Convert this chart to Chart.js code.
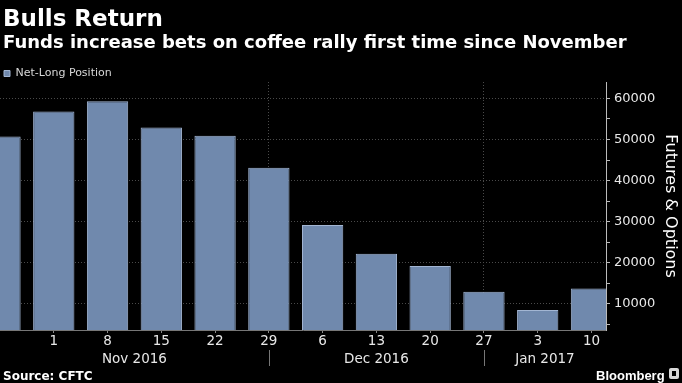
<!DOCTYPE html>
<html>
<head>
<meta charset="utf-8">
<script src="https://cdn.jsdelivr.net/npm/chart.js@4.4.1/dist/chart.umd.min.js"></script>
<style>
  html, body { margin:0; padding:0; background:#000; }
  #wrap { position:relative; width:682px; height:383px; background:#000; overflow:hidden; }
  canvas { position:absolute; left:0; top:0; }
  .t { position:absolute; color:#fff; white-space:nowrap; font-family:"DejaVu Sans", sans-serif; font-weight:bold; }
  #title { left:3px; top:6.5px; font-size:23px; line-height:23px; }
  #subtitle { left:3px; top:32.5px; font-size:18px; line-height:18px; }
  #source { left:3px; top:370px; font-size:12px; line-height:12px; }
  #brand { left:596px; top:369px; font-size:13px; line-height:13px; font-family:"Liberation Sans", Arial, sans-serif; }
  #icon { position:absolute; left:669px; top:368px; width:10px; height:11px; background:#d8d8d8; border-radius:2px; }
  #icon i { position:absolute; left:3px; top:3px; width:4px; height:5px; background:#000; }
</style>
</head>
<body>
<div id="wrap">
  <canvas id="c" width="682" height="383"></canvas>
  <div class="t" id="title">Bulls Return</div>
  <div class="t" id="subtitle">Funds increase bets on coffee rally first time since November</div>
  <div class="t" id="source">Source: CFTC</div>
  <div class="t" id="brand">Bloomberg</div>
  <div id="icon"><i></i></div>
</div>
<script>
// ---- data ----
const seriesName = 'Net-Long Position';
const dayLabels = ['25', '1', '8', '15', '22', '29', '6', '13', '20', '27', '3', '10'];
const netLong = [50700, 56800, 59300, 52900, 50900, 43100, 29200, 22200, 19200, 12900, 8500, 13700];
const shownDayIdx = [1, 2, 3, 4, 5, 6, 7, 8, 9, 10, 11];
const months = ['Nov 2016', 'Dec 2016', 'Jan 2017'];
const monthBreaks = [5, 9];          // indices where month separator lines sit
const yMajorTicks = [10000, 20000, 30000, 40000, 50000, 60000];
const yMinorTicks = [5000, 15000, 25000, 35000, 45000, 55000];
const yAxisTitle = 'Futures & Options';

const X_MIN = 0, X_MAX = 11.27;
const Y_MIN = 3600, Y_MAX = 64000;

const barFill = '#7089ad';
const barEdge = '#a3b6d3';

// tighten the gap between legend row and plot area
const legendTrim = {
  id: 'legendTrim',
  beforeLayout(chart) {
    const lg = chart.legend;
    if (lg && !lg._trimmed) {
      const orig = lg.fit;
      lg.fit = function () { orig.call(this); this.height -= 7; };
      lg._trimmed = true;
    }
  }
};

const monthPlugin = {
  id: 'monthLabels',
  afterDraw(chart) {
    const ctx = chart.ctx, xs = chart.scales.x;
    const bounds = [X_MIN].concat(monthBreaks, [X_MAX]);
    ctx.save();
    ctx.font = '13.5px "DejaVu Sans"';
    ctx.fillStyle = '#e8e8e8';
    ctx.textAlign = 'center';
    ctx.textBaseline = 'alphabetic';
    months.forEach((m, i) => {
      const c = (bounds[i] + bounds[i + 1]) / 2;
      ctx.fillText(m, xs.getPixelForValue(c), 362.5);
    });
    ctx.strokeStyle = '#777';
    ctx.lineWidth = 1;
    monthBreaks.forEach(b => {
      const px = Math.round(xs.getPixelForValue(b)) + 0.5;
      ctx.beginPath();
      ctx.moveTo(px, 350);
      ctx.lineTo(px, 366);
      ctx.stroke();
    });
    ctx.restore();
  }
};

new Chart(document.getElementById('c'), {
  type: 'bar',
  data: {
    datasets: [{
      label: seriesName,
      data: netLong.map((v, i) => ({ x: i, y: v })),
      backgroundColor: barFill,
      borderColor: barEdge,
      borderWidth: 1,
      categoryPercentage: 1,
      barPercentage: 0.768,
      clip: 0
    }]
  },
  options: {
    responsive: false,
    animation: false,
    layout: { padding: { top: 64, left: 0, right: 0, bottom: 0 } },
    plugins: {
      tooltip: { enabled: false },
      legend: {
        position: 'top', align: 'start',
        labels: {
          boxWidth: 6, boxHeight: 6, padding: 4,
          color: '#d8d8d8',
          font: { family: 'DejaVu Sans', size: 11 }
        }
      }
    },
    scales: {
      x: {
        type: 'linear', min: X_MIN, max: X_MAX, offset: false,
        afterBuildTicks: s => { s.ticks = shownDayIdx.map(v => ({ value: v })); },
        afterFit: s => { s.height = 53; },
        ticks: {
          color: '#e8e8e8', padding: 0, autoSkip: false, maxRotation: 0,
          font: { family: 'DejaVu Sans', size: 13.5 },
          callback: v => dayLabels[v]
        },
        grid: {
          offset: false,
          color: c => (c.tick && monthBreaks.includes(c.tick.value)) ? '#4a4a4a' : 'rgba(0,0,0,0)',
          tickColor: '#888', tickLength: 3, lineWidth: 1
        },
        border: { color: '#777', dash: [1, 2] }
      },
      y: {
        position: 'right', min: Y_MIN, max: Y_MAX,
        afterBuildTicks: s => {
          s.ticks = yMinorTicks.concat(yMajorTicks).sort((a, b) => a - b).map(v => ({ value: v }));
        },
        afterFit: s => { s.width = 76; },
        ticks: {
          color: '#e8e8e8', padding: 4,
          font: { family: 'DejaVu Sans', size: 13 },
          callback: v => yMajorTicks.includes(v) ? String(v) : ''
        },
        grid: {
          color: c => (c.tick && yMajorTicks.includes(c.tick.value)) ? '#4a4a4a' : 'rgba(0,0,0,0)',
          tickColor: '#bbb', tickLength: 4, lineWidth: 1
        },
        border: { color: '#bbb', dash: [1, 2] },
        title: {
          display: true, text: yAxisTitle, color: '#fff',
          font: { family: 'DejaVu Sans', size: 16 },
          padding: { top: 2, bottom: 4 }
        }
      }
    }
  },
  plugins: [legendTrim, monthPlugin]
});
</script>
</body>
</html>
